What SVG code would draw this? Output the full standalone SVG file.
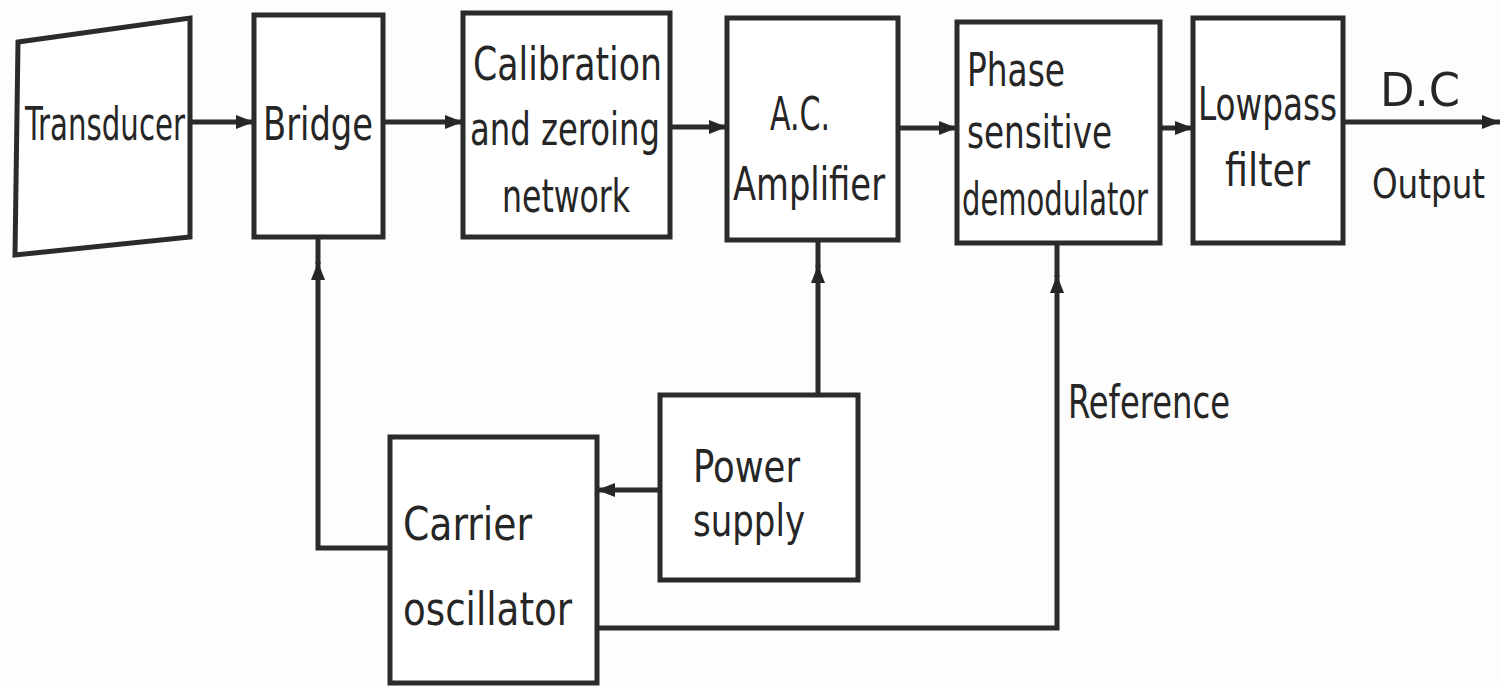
<svg xmlns="http://www.w3.org/2000/svg" width="1501" height="686" viewBox="0 0 1501 686">
<style>
.box{fill:#fff;stroke:#2b2b2b;stroke-width:5}
.ln{fill:none;stroke:#2b2b2b;stroke-width:5}
.t{font-family:"DejaVu Sans Condensed","DejaVu Sans",sans-serif;font-size:47px;fill:#262626}
.s{font-size:44px}
.o{font-size:41px}
</style>
<defs>
<marker id="ah" markerUnits="userSpaceOnUse" markerWidth="20" markerHeight="16" refX="18" refY="8" orient="auto">
<path d="M0,1 L18,8 L0,15 Z" fill="#262626"/>
</marker>
</defs>
<rect width="1501" height="686" fill="#fdfdfd"/>
<g id="connectors">
<line class="ln" x1="190" y1="122" x2="254" y2="122" marker-end="url(#ah)"/>
<line class="ln" x1="383" y1="122" x2="463" y2="122" marker-end="url(#ah)"/>
<line class="ln" x1="670" y1="127" x2="727" y2="127" marker-end="url(#ah)"/>
<line class="ln" x1="898" y1="128" x2="957" y2="128" marker-end="url(#ah)"/>
<line class="ln" x1="1160" y1="128" x2="1193" y2="128" marker-end="url(#ah)"/>
<line class="ln" x1="1343" y1="122" x2="1500" y2="122" marker-end="url(#ah)"/>
<path class="ln" d="M390,548 H318 V262" marker-end="url(#ah)"/>
<line class="ln" x1="318" y1="264" x2="318" y2="237"/>
<path class="ln" d="M818,395 V265" marker-end="url(#ah)"/>
<line class="ln" x1="818" y1="267" x2="818" y2="240"/>
<line class="ln" x1="660" y1="490" x2="597" y2="490" marker-end="url(#ah)"/>
<path class="ln" d="M597,628 H1057 V275" marker-end="url(#ah)"/>
<line class="ln" x1="1057" y1="277" x2="1057" y2="243"/>
</g>
<g id="transducer">
<path class="box" d="M18,42 L190,18 L190,237 L15,255 Z"/>
<text class="t" x="25" y="140" textLength="160" lengthAdjust="spacingAndGlyphs">Transducer</text>
</g>
<g id="bridge">
<rect class="box" x="254" y="15" width="129" height="222"/>
<text class="t" x="263" y="140" textLength="110" lengthAdjust="spacingAndGlyphs">Bridge</text>
</g>
<g id="calibration">
<rect class="box" x="463" y="13" width="207" height="224"/>
<text class="t" x="473" y="80" textLength="189" lengthAdjust="spacingAndGlyphs">Calibration</text>
<text class="t" x="470" y="145" textLength="190" lengthAdjust="spacingAndGlyphs">and zeroing</text>
<text class="t" x="502" y="212" textLength="128" lengthAdjust="spacingAndGlyphs">network</text>
</g>
<g id="ac-amplifier">
<rect class="box" x="727" y="18" width="171" height="222"/>
<text class="t" x="770" y="130" textLength="60" lengthAdjust="spacingAndGlyphs">A.C.</text>
<text class="t" x="733" y="200" textLength="152" lengthAdjust="spacingAndGlyphs">Amplifier</text>
</g>
<g id="phase-demodulator">
<rect class="box" x="957" y="22" width="203" height="221"/>
<text class="t" x="967" y="86" textLength="98" lengthAdjust="spacingAndGlyphs">Phase</text>
<text class="t" x="967" y="148" textLength="145" lengthAdjust="spacingAndGlyphs">sensitive</text>
<text class="t" x="962" y="215" textLength="186" lengthAdjust="spacingAndGlyphs">demodulator</text>
</g>
<g id="lowpass-filter">
<rect class="box" x="1193" y="18" width="150" height="225"/>
<text class="t" x="1198" y="120" textLength="139" lengthAdjust="spacingAndGlyphs">Lowpass</text>
<text class="t" x="1225" y="186" textLength="85" lengthAdjust="spacingAndGlyphs">filter</text>
</g>
<g id="output-label">
<text class="t" x="1380" y="106" textLength="80" lengthAdjust="spacingAndGlyphs">D.C</text>
<text class="t o" x="1372" y="198" textLength="113" lengthAdjust="spacingAndGlyphs">Output</text>
</g>
<g id="power-supply">
<rect class="box" x="660" y="395" width="198" height="185"/>
<text class="t s" x="693" y="482" textLength="107" lengthAdjust="spacingAndGlyphs">Power</text>
<text class="t s" x="693" y="536" textLength="112" lengthAdjust="spacingAndGlyphs">supply</text>
</g>
<g id="carrier-oscillator">
<rect class="box" x="390" y="437" width="207" height="246"/>
<text class="t" x="403" y="540" textLength="129" lengthAdjust="spacingAndGlyphs">Carrier</text>
<text class="t" x="403" y="625" textLength="169" lengthAdjust="spacingAndGlyphs">oscillator</text>
</g>
<g id="reference-label">
<text class="t" x="1068" y="418" textLength="162" lengthAdjust="spacingAndGlyphs">Reference</text>
</g>
</svg>
